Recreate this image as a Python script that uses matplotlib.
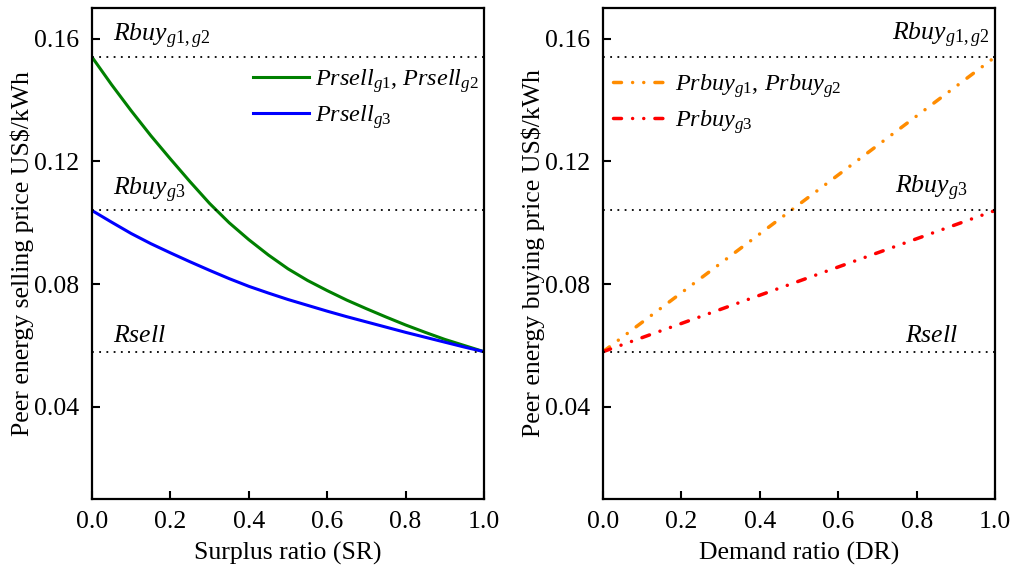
import numpy as np
import matplotlib
matplotlib.use("Agg")
import matplotlib.pyplot as plt

plt.rcParams['font.family'] = 'serif'
plt.rcParams['font.serif'] = ['Liberation Serif', 'DejaVu Serif']
plt.rcParams['mathtext.fontset'] = 'custom'
plt.rcParams['mathtext.rm'] = 'Liberation Serif'
plt.rcParams['mathtext.it'] = 'Liberation Serif:italic'
plt.rcParams['font.size'] = 18.5

# grid tariffs (US$/kWh)
rbuy_g12 = 0.154
rbuy_g3 = 0.104
rsell = 0.058

# selling price vs surplus ratio
sr = [0.0, 0.05, 0.1, 0.15, 0.2, 0.25, 0.3, 0.35, 0.4, 0.45, 0.5,
      0.55, 0.6, 0.65, 0.7, 0.75, 0.8, 0.85, 0.9, 0.95, 1.0]
prsell_g12 = [0.154, 0.1450, 0.1365, 0.1284, 0.1208, 0.1134, 0.1063, 0.1000, 0.0945, 0.0895, 0.0850,
              0.0812, 0.0779, 0.0748, 0.0720, 0.0693, 0.0667, 0.0643, 0.0620, 0.0600, 0.0580]
prsell_g3 = [0.104, 0.1002, 0.0965, 0.0932, 0.0902, 0.0873, 0.0845, 0.0818, 0.0793, 0.0771, 0.0750,
             0.0731, 0.0712, 0.0694, 0.0677, 0.0660, 0.0643, 0.0627, 0.0611, 0.0595, 0.0580]

# buying price vs demand ratio
dr = [0.0, 0.2, 0.4, 0.6, 0.8, 1.0]
prbuy_g12 = [0.058, 0.0772, 0.0964, 0.1156, 0.1348, 0.154]
prbuy_g3 = [0.058, 0.0672, 0.0764, 0.0856, 0.0948, 0.104]

xticks = [0.0, 0.2, 0.4, 0.6, 0.8, 1.0]
yticks = [0.04, 0.08, 0.12, 0.16]

fig = plt.figure(figsize=(10.13, 5.71), dpi=100)
ax1 = fig.add_axes([0.0908, 0.1261, 0.3870, 0.8600])
ax2 = fig.add_axes([0.5953, 0.1261, 0.3870, 0.8600])

dotted = (0, (1, 3))
dashdotdot = (0, (2.3, 3.2, 0.01, 3.2, 0.01, 3.2))


def style_axes(ax, xlabel, ylabel):
    ax.set_xlim(0, 1)
    ax.set_ylim(0.01, 0.17)
    ax.set_xticks(xticks)
    ax.set_yticks(yticks)
    ax.set_xticklabels(['%.1f' % v for v in xticks])
    ax.set_yticklabels(['%.2f' % v for v in yticks])
    ax.tick_params(direction='in', length=6, width=1.5, pad=9)
    for s in ax.spines.values():
        s.set_linewidth(1.6)
    ax.set_xlabel(xlabel, labelpad=6)
    ax.set_ylabel(ylabel, labelpad=0)
    for v in [rbuy_g12, rbuy_g3, rsell]:
        ax.axhline(v, color='black', lw=1.3, linestyle=dotted)


# left panel: selling price
ax1.plot(sr, prsell_g12, color='#008000', lw=2.2,
         label=r'$\mathit{Prsell}_{\mathit{g1}}$, $\mathit{Prsell}_{\mathit{g2}}$')
ax1.plot(sr, prsell_g3, color='#0000ff', lw=2.2,
         label=r'$\mathit{Prsell}_{\mathit{g3}}$')
style_axes(ax1, 'Surplus ratio (SR)', 'Peer energy selling price US$/kWh')
ax1.annotate(r'$\mathit{Rbuy}_{\mathit{g1,g2}}$', xy=(0.054, rbuy_g12), xytext=(0, 11),
             textcoords='offset points', va='baseline', ha='left')
ax1.annotate(r'$\mathit{Rbuy}_{\mathit{g3}}$', xy=(0.054, rbuy_g3), xytext=(0, 11),
             textcoords='offset points', va='baseline', ha='left')
ax1.annotate(r'$\mathit{Rsell}$', xy=(0.054, rsell), xytext=(0, 7),
             textcoords='offset points', va='baseline', ha='left')
ax1.legend(loc='upper left', bbox_to_anchor=(0.41, 0.88), frameon=False, fontsize=17.5,
           handlelength=2.3, handletextpad=0.25, labelspacing=0.35, borderpad=0,
           borderaxespad=0)

# right panel: buying price
ax2.plot(dr, prbuy_g12, color='#ff8c00', lw=2.5, linestyle=dashdotdot,
         dash_capstyle='round', label=r'$\mathit{Prbuy}_{\mathit{g1}}$, $\mathit{Prbuy}_{\mathit{g2}}$')
ax2.plot(dr, prbuy_g3, color='#ff0000', lw=2.5, linestyle=dashdotdot,
         dash_capstyle='round', label=r'$\mathit{Prbuy}_{\mathit{g3}}$')
style_axes(ax2, 'Demand ratio (DR)', 'Peer energy buying price US$/kWh')
ax2.annotate(r'$\mathit{Rbuy}_{\mathit{g1,g2}}$', xy=(0.985, rbuy_g12), xytext=(0, 12),
             textcoords='offset points', va='baseline', ha='right')
ax2.annotate(r'$\mathit{Rbuy}_{\mathit{g3}}$', xy=(0.93, rbuy_g3), xytext=(0, 12),
             textcoords='offset points', va='baseline', ha='right')
ax2.annotate(r'$\mathit{Rsell}$', xy=(0.905, rsell), xytext=(0, 7),
             textcoords='offset points', va='baseline', ha='right')
ax2.legend(loc='upper left', bbox_to_anchor=(0.025, 0.87), frameon=False, fontsize=17.5,
           handlelength=2.3, handletextpad=0.25, labelspacing=0.35, borderpad=0,
           borderaxespad=0)

fig.savefig('out.png', dpi=100)
